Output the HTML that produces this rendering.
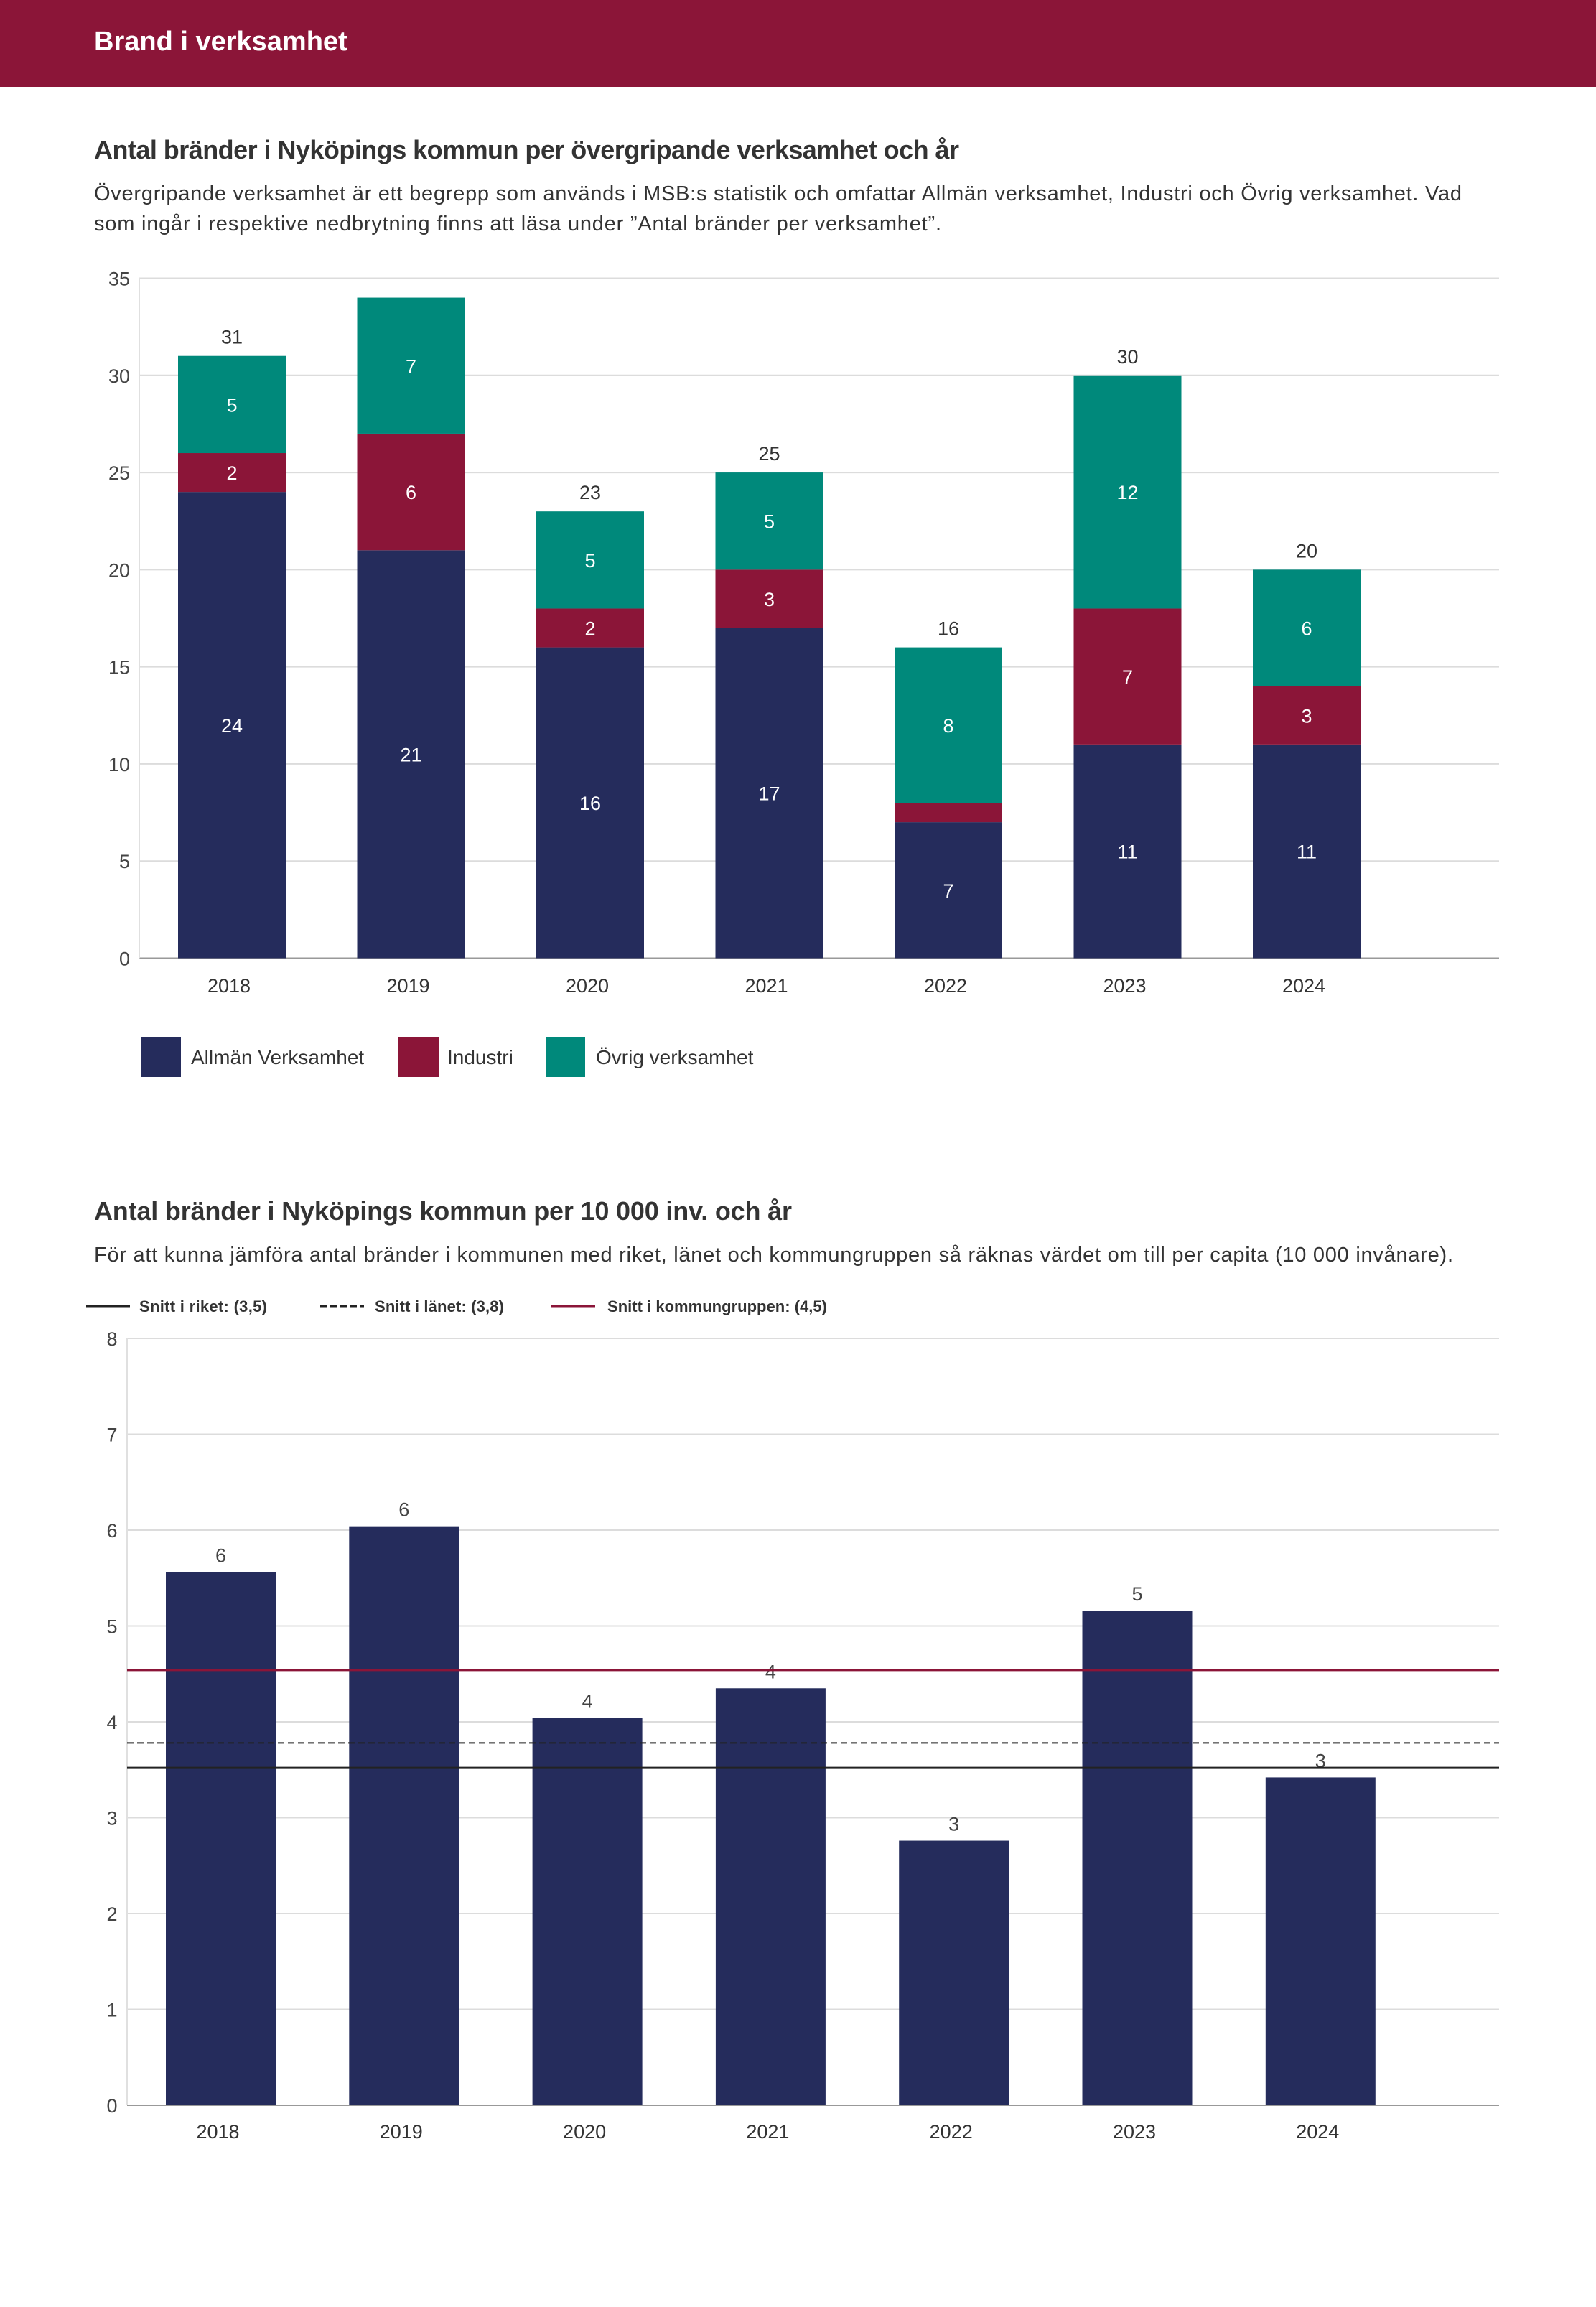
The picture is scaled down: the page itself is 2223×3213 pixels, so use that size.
<!DOCTYPE html>
<html><head><meta charset="utf-8"><style>
html,body{margin:0;padding:0;background:#fff;}
svg{display:block;font-family:"Liberation Sans",sans-serif;}
</style></head><body>
<svg id="page" width="2223" height="3213" viewBox="0 0 2223 3213">
<rect x="0" y="0" width="2223" height="121" fill="#8B1538"/>
<text x="131" y="70" fill="#fff" font-size="38" font-weight="bold">Brand i verksamhet</text>

<text x="131" y="221" fill="#333" font-size="36" font-weight="bold" textLength="1205">Antal bränder i Nyköpings kommun per övergripande verksamhet och år</text>
<text x="131" y="279" fill="#333" font-size="29" textLength="1905">Övergripande verksamhet är ett begrepp som används i MSB:s statistik och omfattar Allmän verksamhet, Industri och Övrig verksamhet. Vad</text>
<text x="131" y="321" fill="#333" font-size="29" textLength="1180">som ingår i respektive nedbrytning finns att läsa under ”Antal bränder per verksamhet”.</text>
<g id="chart1"></g>
<g id="legend1">
<rect x="197" y="1444" width="55" height="56" fill="#252C5C"/>
<text x="266" y="1482" font-size="28" fill="#333">Allmän Verksamhet</text>
<rect x="555" y="1444" width="56" height="56" fill="#8B1538"/>
<text x="623" y="1482" font-size="28" fill="#333">Industri</text>
<rect x="760" y="1444" width="55" height="56" fill="#00897B"/>
<text x="830" y="1482" font-size="28" fill="#333">Övrig verksamhet</text>
</g>

<text x="131" y="1699" fill="#333" font-size="36" font-weight="bold" textLength="972">Antal bränder i Nyköpings kommun per 10 000 inv. och år</text>
<text x="131" y="1757" fill="#333" font-size="29" textLength="1893">För att kunna jämföra antal bränder i kommunen med riket, länet och kommungruppen så räknas värdet om till per capita (10 000 invånare).</text>
<g id="legend2">
<line x1="120" y1="1819" x2="181" y2="1819" stroke="#222" stroke-width="3"/>
<text x="194" y="1827" font-size="22" font-weight="bold" fill="#333" textLength="178">Snitt i riket: (3,5)</text>
<line x1="446" y1="1819" x2="507" y2="1819" stroke="#222" stroke-width="3" stroke-dasharray="9,5"/>
<text x="522" y="1827" font-size="22" font-weight="bold" fill="#333" textLength="180">Snitt i länet: (3,8)</text>
<line x1="767" y1="1819" x2="829" y2="1819" stroke="#8B1538" stroke-width="3"/>
<text x="846" y="1827" font-size="22" font-weight="bold" fill="#333" textLength="306">Snitt i kommungruppen: (4,5)</text>
</g>
<g id="chart2"></g>
</svg>
<script>
const years = ["2018","2019","2020","2021","2022","2023","2024"];
const allman = [24,21,16,17,7,11,11];
const industri = [2,6,2,3,1,7,3];
const ovrig = [5,7,5,5,8,12,6];
const ticks1 = [0,5,10,15,20,25,30,35];

const perCapita = [5.56,6.04,4.04,4.35,2.76,5.16,3.42];
const perCapitaLabels = ["6","6","4","4","3","5","3"];
const ticks2 = [0,1,2,3,4,5,6,7,8];
const avgRiket = 3.52;
const avgLanet = 3.78;
const avgKommungrupp = 4.54;

const NS = "http://www.w3.org/2000/svg";
function mk(tag, attrs, parent, txt){
  const e = document.createElementNS(NS, tag);
  for (const k in attrs) e.setAttribute(k, attrs[k]);
  if (txt !== undefined) e.textContent = txt;
  parent.appendChild(e);
  return e;
}

// Chart 1
(function(){
  const g = document.getElementById('chart1');
  const y0 = 1334.5, pxPer = (1334.5 - 387.5) / 35;
  const y = v => y0 - v * pxPer;
  const xc = i => 323 + i * 249.5;
  const bw = 150, left = 194, right = 2088;
  ticks1.forEach(t => {
    const l = mk('line', {x1:left, x2:right, y1:y(t), y2:y(t), stroke: t===0?'#999':'#dcdcdc', 'stroke-width':2}, g);
    
    
    const tx = mk('text', {x:181, y:y(t)+10, 'text-anchor':'end', 'font-size':27, fill:'#444'}, g, String(t));
    
    
  });
  const ax = mk('line', {x1:left, x2:left, y1:387, y2:y0, stroke:'#e0e0e0', 'stroke-width':2}, g);
  
  
  const series = [[allman,'#252C5C','allman'],[industri,'#8B1538','industri'],[ovrig,'#00897B','ovrig']];
  years.forEach((yr, i) => {
    let base = 0;
    series.forEach(([arr, col, nm]) => {
      const v = arr[i];
      const r = mk('rect', {x:xc(i)-bw/2, y:y(base+v), width:bw, height:v*pxPer, fill:col}, g);
      
      
      if (v * pxPer > 40) {
        const t = mk('text', {x:xc(i), y:y(base+v/2)+10, 'text-anchor':'middle', 'font-size':27, fill:'#fff'}, g, String(v));
        
        
      }
      base += v;
    });
    if (y(base) - 45 > 387) {
      const t = mk('text', {x:xc(i), y:y(base)-17, 'text-anchor':'middle', 'font-size':27, fill:'#333'}, g, String(base));
      
      
    }
    const xl = mk('text', {x:xc(i)-4, y:1382, 'text-anchor':'middle', 'font-size':27, fill:'#333'}, g, yr);
    
    
  });
})();

// Chart 2
(function(){
  const g = document.getElementById('chart2');
  const y0 = 2932, pxPer = (2932 - 1864) / 8;
  const y = v => y0 - v * pxPer;
  const xc = i => 307.5 + i * 255.3;
  const bw = 153, left = 177, right = 2088;
  ticks2.forEach(t => {
    const l = mk('line', {x1:left, x2:right, y1:y(t), y2:y(t), stroke: t===0?'#999':'#dcdcdc', 'stroke-width':2}, g);
    
    
    const tx = mk('text', {x:156, y:y(t)+10, 'text-anchor':'middle', 'font-size':27, fill:'#444'}, g, String(t));
    
    
  });
  const ax = mk('line', {x1:left, x2:left, y1:1864, y2:y0, stroke:'#e0e0e0', 'stroke-width':2}, g);
  
  
  years.forEach((yr, i) => {
    const v = perCapita[i];
    const r = mk('rect', {x:xc(i)-bw/2, y:y(v), width:bw, height:v*pxPer, fill:'#252C5C'}, g);
    
    
    const t = mk('text', {x:xc(i), y:y(v)-14, 'text-anchor':'middle', 'font-size':27, fill:'#444'}, g, perCapitaLabels[i]);
    
    
    const xl = mk('text', {x:xc(i)-4, y:2978, 'text-anchor':'middle', 'font-size':27, fill:'#333'}, g, yr);
    
    
  });
  const l1 = mk('line', {x1:left, x2:right, y1:y(avgKommungrupp), y2:y(avgKommungrupp), stroke:'#8B1538', 'stroke-width':3}, g);
  
  
  const l2 = mk('line', {x1:left, x2:right, y1:y(avgLanet), y2:y(avgLanet), stroke:'#222', 'stroke-width':2, 'stroke-dasharray':'9,5'}, g);
  
  
  const l3 = mk('line', {x1:left, x2:right, y1:y(avgRiket), y2:y(avgRiket), stroke:'#222', 'stroke-width':3}, g);
  
  
})();
</script>
</body></html>
